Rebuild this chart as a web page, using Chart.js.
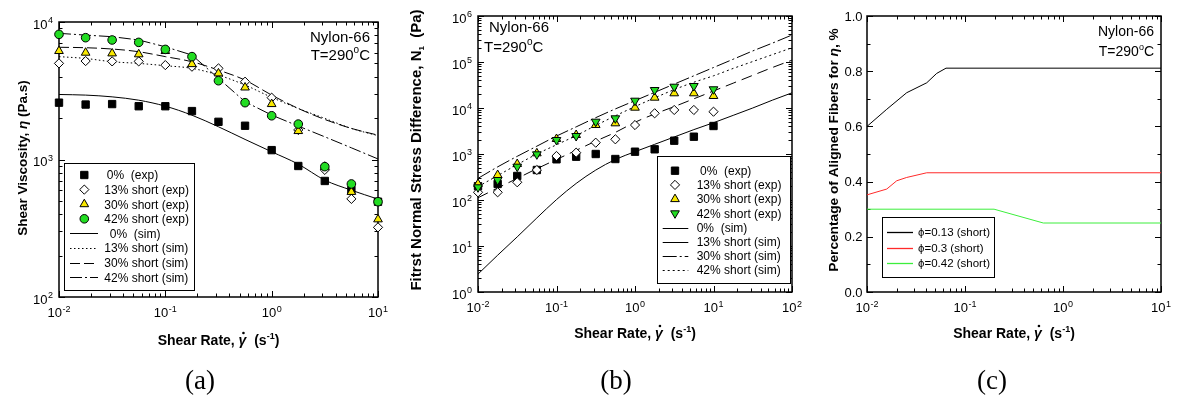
<!DOCTYPE html>
<html>
<head>
<meta charset="utf-8">
<script src="https://cdn.jsdelivr.net/npm/chart.js@4.4.1/dist/chart.umd.min.js"></script>
<style>
  html, body { margin: 0; padding: 0; background: #fff; }
  #wrap { position: relative; width: 1177px; height: 403px; overflow: hidden; }
  canvas { position: absolute; top: 0; }
</style>
</head>
<body>
<div id="wrap">
  <canvas id="chartA" width="392" height="403" style="left:0px"></canvas>
  <canvas id="chartB" width="420" height="403" style="left:392px"></canvas>
  <canvas id="chartC" width="377" height="403" style="left:800px"></canvas>
</div>
<script>
// ---- data ----
const shearRate = [0.01, 0.0178, 0.0316, 0.0562, 0.1, 0.178, 0.316, 0.562, 1, 1.78, 3.16, 5.62, 10];
const simRateB = [0.01, 0.0178, 0.0316, 0.0562, 0.1, 0.178, 0.316, 0.562, 1, 1.78, 3.16, 5.62, 10, 17.8, 31.6, 56.2, 100];

// (a) shear viscosity, Pa.s
const visc0Exp  = [2590, 2510, 2530, 2440, 2440, 2250, 1880, 1760, 1170, 897, 698, 600, 493];
const visc13Exp = [5000, 5200, 5170, 5170, 4860, 4730, 4600, 3680, 2815, 1640, 840, 517, 321];
const visc30Exp = [6150, 5980, 5910, 5820, 6150, 4940, 4230, 3340, 2530, 1610, 886, 581, 367];
const visc42Exp = [8130, 7690, 7400, 7110, 6320, 5600, 3740, 2590, 2080, 1810, 887, 664, 493];
const visc0Sim  = [2970, 2940, 2855, 2700, 2443, 2100, 1730, 1400, 1138, 925, 708, 598, 515];
const visc13Sim = [5600, 5430, 5140, 5000, 4810, 4600, 4110, 3480, 2830, 2350, 1990, 1683, 1490];
const visc30Sim = [6550, 6500, 6360, 6080, 5600, 5140, 4470, 3780, 2940, 2350, 1955, 1683, 1503];
const visc42Sim = [8270, 8030, 7820, 7400, 6600, 5750, 3890, 2630, 2105, 1750, 1462, 1216, 1009];

// (b) first normal stress difference, Pa
const n1_0Exp  = [200, 223, 333, 449, 767, 873, 1000, 778, 1122, 1265, 1946, 2377, 4060];
const n1_13Exp = [147, 147, 243, 449, 905, 1070, 1762, 2088, 4265, 7670, 9060, 9060, 8310];
const n1_30Exp = [223, 349, 606, 1035, 2120, 2590, 4265, 4645, 10160, 16760, 20870, 20870, 18240];
const n1_42Exp = [189, 272, 530, 984, 2014, 2460, 5040, 5970, 14420, 24600, 29040, 30070, 25530];
const n1_0Sim  = [2.45, 6.31, 15.8, 40.7, 102, 229, 447, 759, 1122, 1622, 2344, 3388, 4786, 6918, 10000, 14790, 21380];
const n1_13Sim = [112, 182, 295, 479, 759, 1202, 1905, 2951, 4898, 7413, 10720, 15850, 23440, 34670, 51290, 75860, 109600];
const n1_30Sim = [295, 525, 891, 1479, 2455, 3890, 6166, 9550, 14450, 21880, 33110, 50120, 75860, 114800, 173800, 257000, 386000];
const n1_42Sim = [195, 339, 589, 1000, 1585, 2512, 4169, 6761, 10720, 16600, 25120, 36310, 50120, 72440, 102300, 144500, 204200];

// (c) aligned fibre fraction
const alignRate13 = [0.01, 0.0159, 0.0254, 0.0407, 0.0514, 0.064, 10];
const align13     = [0.60, 0.662, 0.722, 0.758, 0.792, 0.811, 0.811];
const alignRate30 = [0.01, 0.0159, 0.0201, 0.0254, 0.0407, 10];
const align30     = [0.352, 0.373, 0.403, 0.415, 0.432, 0.432];
const alignRate42 = [0.01, 0.198, 0.63, 10];
const align42     = [0.30, 0.30, 0.25, 0.25];

// tick labels
const xExpA = [-2, -1, 0, 1];
const yExpA = [2, 3, 4];
const xExpB = [-2, -1, 0, 1, 2];
const yExpB = [0, 1, 2, 3, 4, 5, 6];
const xExpC = [-2, -1, 0, 1];
const yValC = [0, 0.2, 0.4, 0.6, 0.8, 1.0];
const yLabC = ['0.0', '0.2', '0.4', '0.6', '0.8', '1.0'];

const legendA = ['0%  (exp)', '13% short (exp)', '30% short (exp)', '42% short (exp)',
                 '0%  (sim)', '13% short (sim)', '30% short (sim)', '42% short (sim)'];
const legendB = legendA;
const legendC = ['\u03d5=0.13 (short)', '\u03d5=0.3 (short)', '\u03d5=0.42 (short)'];

const SANS = '"Liberation Sans", Arial, sans-serif';
const SERIF = '"Liberation Serif", "Times New Roman", serif';
const YELLOW = '#f8e800';
const GREEN = '#22dd22';

const pts = (xs, ys) => xs.map((x, i) => ({ x: x, y: ys[i] }));

function expSet(label, xv, yv, style, r, fill, order, rot) {
  return {
    label, data: pts(xv, yv), showLine: false,
    pointStyle: style, pointRadius: r, pointBackgroundColor: fill,
    pointBorderColor: '#000', pointBorderWidth: 1, pointRotation: rot || 0,
    clip: false, order
  };
}

function simSet(label, xv, yv, dash, color, smooth, legendDash) {
  return {
    label, data: pts(xv, yv), showLine: true, pointRadius: 0,
    borderColor: color || '#000', borderWidth: 1, borderDash: dash, fill: false,
    tension: 0, cubicInterpolationMode: smooth ? 'monotone' : 'default',
    legendDash: legendDash, order: 10
  };
}

// ---- drawing helpers ----
function logTicks(r) {
  const out = [];
  for (let e = r[0]; e < r[1]; e++)
    for (let k = 1; k < 10; k++) out.push({ v: k * Math.pow(10, e), major: k === 1 });
  out.push({ v: Math.pow(10, r[1]), major: true });
  return out;
}

function linTicks() {
  const out = [];
  for (let i = 0; i <= 10; i++) out.push({ v: i / 10, major: i % 2 === 0 });
  return out;
}

function drawPow(ctx, e, x, y, align) {
  const sup = String(e);
  ctx.font = '13px ' + SANS;
  const w1 = ctx.measureText('10').width;
  ctx.font = '9px ' + SANS;
  const w2 = ctx.measureText(sup).width;
  const w = w1 + w2 + 0.5;
  const x0 = align === 'center' ? x - w / 2 : x - w;
  ctx.textAlign = 'left';
  ctx.font = '13px ' + SANS;
  ctx.fillText('10', x0, y);
  ctx.font = '9px ' + SANS;
  ctx.fillText(sup, x0 + w1 + 0.5, y - 5.5);
}

function richText(ctx, segs, x, y, rotate) {
  ctx.save();
  ctx.translate(x, y);
  if (rotate) ctx.rotate(-Math.PI / 2);
  ctx.textAlign = 'left';
  let w = 0;
  segs.forEach(s => { ctx.font = s.f; s.w = ctx.measureText(s.t).width; w += s.w; });
  let cx = -w / 2;
  segs.forEach(s => {
    ctx.font = s.f;
    ctx.fillText(s.t, cx, s.dy || 0);
    if (s.dot) {
      ctx.beginPath();
      ctx.arc(cx + s.w * 0.62, -12, 1.3, 0, Math.PI * 2);
      ctx.fill();
    }
    cx += s.w;
  });
  ctx.restore();
}

function rateTitle() {
  const b = 'bold 14px ' + SANS;
  return [
    { t: 'Shear Rate, ', f: b },
    { t: '\u03b3', f: 'italic bold 14px ' + SANS, dot: true },
    { t: '  (s', f: b },
    { t: '-1', f: 'bold 9px ' + SANS, dy: -6 },
    { t: ')', f: b }
  ];
}

function drawNote(ctx, n) {
  const big = n.size + 'px ' + SANS, small = Math.round(n.size * 0.65) + 'px ' + SANS;
  ctx.textAlign = 'left';
  ctx.font = big;
  const w1 = ctx.measureText('Nylon-66').width;
  const wa = ctx.measureText('T=290').width, wc = ctx.measureText('C').width;
  ctx.font = small;
  const wo = ctx.measureText('o').width;
  const w2 = wa + wo + wc;
  const x1 = n.right ? n.x - w1 : n.x;
  const x2 = n.right ? n.x - w2 : n.x2;
  ctx.font = big;
  ctx.fillText('Nylon-66', x1, n.y1);
  ctx.fillText('T=290', x2, n.y2);
  ctx.fillText('C', x2 + wa + wo, n.y2);
  ctx.font = small;
  ctx.fillText('o', x2 + wa, n.y2 - n.size * 0.45);
}

function marker(ctx, style, r, x, y, fill, rot) {
  ctx.beginPath();
  if (style === 'rect') {
    const s = r * Math.SQRT1_2;
    ctx.rect(x - s, y - s, 2 * s, 2 * s);
  } else if (style === 'rectRot') {
    ctx.moveTo(x - r, y); ctx.lineTo(x, y - r); ctx.lineTo(x + r, y); ctx.lineTo(x, y + r);
    ctx.closePath();
  } else if (style === 'triangle') {
    let a = (rot || 0) * Math.PI / 180;
    for (let i = 0; i < 3; i++) {
      const px = x + Math.sin(a) * r, py = y - Math.cos(a) * r;
      if (i) ctx.lineTo(px, py); else ctx.moveTo(px, py);
      a += 2 * Math.PI / 3;
    }
    ctx.closePath();
  } else {
    ctx.arc(x, y, r, 0, Math.PI * 2);
  }
  ctx.fillStyle = fill;
  ctx.fill();
  ctx.lineWidth = 1;
  ctx.strokeStyle = '#000';
  ctx.stroke();
}

function drawLegend(chart, L) {
  const ctx = chart.ctx;
  ctx.save();
  ctx.fillStyle = '#fff';
  ctx.fillRect(L.box[0], L.box[1], L.box[2] - L.box[0], L.box[3] - L.box[1]);
  ctx.strokeStyle = '#000';
  ctx.lineWidth = 1;
  ctx.strokeRect(L.box[0] + 0.5, L.box[1] + 0.5, L.box[2] - L.box[0], L.box[3] - L.box[1]);
  L.labels.forEach((text, i) => {
    const ds = chart.data.datasets[i];
    const y = L.y0 + L.dy * i;
    if (ds.showLine) {
      ctx.save();
      ctx.strokeStyle = ds.borderColor;
      ctx.lineWidth = L.lw || 1;
      ctx.setLineDash(ds.legendDash || ds.borderDash || []);
      ctx.beginPath();
      ctx.moveTo(L.s1, Math.round(y) + 0.5);
      ctx.lineTo(L.s2, Math.round(y) + 0.5);
      ctx.stroke();
      ctx.restore();
    } else {
      marker(ctx, ds.pointStyle, ds.pointRadius, L.mx, y, ds.pointBackgroundColor, ds.pointRotation);
    }
    ctx.fillStyle = '#000';
    ctx.font = L.font;
    ctx.textAlign = 'left';
    ctx.fillText(text, L.tx + (L.dx ? L.dx[i] : 0), y + 4.3);
  });
  ctx.restore();
}

function paperPlugin(p) {
  return {
    id: 'paper',
    beforeDatasetsDraw(chart) {
      const ctx = chart.ctx, a = chart.chartArea, xs = chart.scales.x, ys = chart.scales.y;
      ctx.save();
      ctx.strokeStyle = '#000';
      ctx.lineWidth = 1;
      ctx.beginPath();
      logTicks(p.xRange).forEach(t => {
        const px = Math.round(xs.getPixelForValue(t.v)) + 0.5, len = t.major ? 6 : 3.5;
        ctx.moveTo(px, a.bottom); ctx.lineTo(px, a.bottom - len);
        ctx.moveTo(px, a.top); ctx.lineTo(px, a.top + len);
      });
      (p.yLin ? linTicks() : logTicks(p.yRange)).forEach(t => {
        const py = Math.round(ys.getPixelForValue(t.v)) + 0.5, len = t.major ? 6 : 3.5;
        ctx.moveTo(a.left, py); ctx.lineTo(a.left + len, py);
        ctx.moveTo(a.right, py); ctx.lineTo(a.right - len, py);
      });
      ctx.stroke();
      ctx.lineWidth = 1.5;
      ctx.strokeRect(a.left, a.top, a.right - a.left, a.bottom - a.top);

      ctx.fillStyle = '#000';
      p.xExp.forEach(e => drawPow(ctx, e, xs.getPixelForValue(Math.pow(10, e)), a.bottom + 20, 'center'));
      if (p.yLin) {
        ctx.font = '13px ' + SANS;
        ctx.textAlign = 'right';
        yValC.forEach((v, i) => ctx.fillText(yLabC[i], a.left - 4.5, ys.getPixelForValue(v) + 4.5));
      } else {
        p.yExp.forEach(e => drawPow(ctx, e, a.left - 6, ys.getPixelForValue(Math.pow(10, e)) + 6.5, 'right'));
      }
      ctx.restore();
    },
    afterDraw(chart) {
      const ctx = chart.ctx, a = chart.chartArea;
      ctx.save();
      ctx.fillStyle = '#000';
      richText(ctx, rateTitle(), (a.left + a.right) / 2, p.xTitleY, false);
      richText(ctx, p.yTitle, p.yTitleX, p.yTitleY, true);
      drawNote(ctx, p.note);
      ctx.font = '27px ' + SERIF;
      ctx.textAlign = 'center';
      ctx.fillText(p.panel, p.panelX, 388.5);
      ctx.restore();
      drawLegend(chart, p.legend);
    }
  };
}

function makeChart(id, datasets, padding, xMax, yScale, p) {
  return new Chart(document.getElementById(id), {
    type: 'line',
    data: { datasets },
    options: {
      responsive: false,
      maintainAspectRatio: false,
      animation: false,
      events: [],
      layout: { padding },
      plugins: { legend: { display: false }, tooltip: { enabled: false } },
      scales: {
        x: { type: 'logarithmic', min: 0.01, max: xMax, display: false },
        y: Object.assign({ display: false }, yScale)
      }
    },
    plugins: [paperPlugin(p)]
  });
}

// ---- (a) shear viscosity ----
makeChart('chartA', [
  expSet('0% (exp)', shearRate, visc0Exp, 'rect', 5.2, '#000', 4),
  expSet('13% short (exp)', shearRate, visc13Exp, 'rectRot', 4.6, '#fff', 3),
  expSet('30% short (exp)', shearRate, visc30Exp, 'triangle', 5, YELLOW, 2),
  expSet('42% short (exp)', shearRate, visc42Exp, 'circle', 4.3, GREEN, 1),
  simSet('0% (sim)', shearRate, visc0Sim, [], '#000', true),
  simSet('13% short (sim)', shearRate, visc13Sim, [1.5, 2.5], '#000', true),
  simSet('30% short (sim)', shearRate, visc30Sim, [10, 4], '#000', true),
  simSet('42% short (sim)', shearRate, visc42Sim, [12, 3, 2, 3], '#000', false)
], { left: 59, top: 22, right: 14, bottom: 106 }, 10, { type: 'logarithmic', min: 100, max: 10000 }, {
  xRange: [-2, 1], yRange: [2, 4], xExp: xExpA, yExp: yExpA,
  xTitleY: 345,
  yTitle: [
    { t: 'Shear Viscosity, ', f: 'bold 13.5px ' + SANS },
    { t: '\u03b7', f: 'italic bold 13.5px ' + SANS },
    { t: ' (Pa.s)', f: 'bold 13.5px ' + SANS }
  ],
  yTitleX: 27, yTitleY: 158,
  note: { size: 15, right: true, x: 370, y1: 41.7, y2: 60 },
  panel: '(a)', panelX: 200,
  legend: {
    box: [64, 163, 194, 290], y0: 175, dy: 14.6, mx: 84.3, s1: 70, s2: 98, tx: 104.3,
    dx: [2.5, 0, 0, 0, 5.5, 0, 0, 0], font: '12px ' + SANS, labels: legendA
  }
});

// ---- (b) first normal stress difference ----
makeChart('chartB', [
  expSet('0% (exp)', shearRate, n1_0Exp, 'rect', 5.2, '#000', 4),
  expSet('13% short (exp)', shearRate, n1_13Exp, 'rectRot', 4.6, '#fff', 3),
  expSet('30% short (exp)', shearRate, n1_30Exp, 'triangle', 5, YELLOW, 2),
  expSet('42% short (exp)', shearRate, n1_42Exp, 'triangle', 5, GREEN, 1, 180),
  simSet('0% (sim)', simRateB, n1_0Sim, [], '#000', true),
  simSet('13% short (sim)', simRateB, n1_13Sim, [11, 6], '#000', true, []),
  simSet('30% short (sim)', simRateB, n1_30Sim, [14, 3, 2, 3], '#000', true, [14, 3, 2, 3]),
  simSet('42% short (sim)', simRateB, n1_42Sim, [2, 3], '#000', true)
], { left: 86, top: 16, right: 20, bottom: 111 }, 100, { type: 'logarithmic', min: 1, max: 1000000 }, {
  xRange: [-2, 2], yRange: [0, 6], xExp: xExpB, yExp: yExpB,
  xTitleY: 338,
  yTitle: [
    { t: 'Fitrst Normal Stress Difference, N', f: 'bold 15px ' + SANS },
    { t: '1', f: 'bold 8px ' + SANS, dy: 3 },
    { t: '  (Pa)', f: 'bold 15px ' + SANS }
  ],
  yTitleX: 29, yTitleY: 150,
  note: { size: 15, right: false, x: 97, x2: 92, y1: 31.7, y2: 51.7 },
  panel: '(b)', panelX: 224,
  legend: {
    box: [265, 156, 398, 283], y0: 170.7, dy: 14.2, mx: 283, s1: 270.7, s2: 296.3, tx: 304.7,
    dx: [3.3, 0, 0, 0, 0, 0, 0, 0], font: '12px ' + SANS, labels: legendB
  }
});

// ---- (c) aligned fibres ----
makeChart('chartC', [
  simSet('phi=0.13', alignRate13, align13, [], '#000', false),
  simSet('phi=0.3', alignRate30, align30, [], '#ff2a2a', false),
  simSet('phi=0.42', alignRate42, align42, [], '#3cee3c', false)
], { left: 67, top: 16, right: 16, bottom: 111 }, 10, { type: 'linear', min: 0, max: 1 }, {
  xRange: [-2, 1], yLin: true, xExp: xExpC,
  xTitleY: 338,
  yTitle: [
    { t: 'Percentage of Aligned Fibers for ', f: 'bold 13.7px ' + SANS },
    { t: '\u03b7', f: 'italic bold 13.7px ' + SANS },
    { t: ', %', f: 'bold 13.7px ' + SANS }
  ],
  yTitleX: 38, yTitleY: 150,
  note: { size: 14, right: true, x: 354, y1: 36, y2: 56 },
  panel: '(c)', panelX: 192,
  legend: {
    box: [82, 217, 194, 277], y0: 232, dy: 15.5, mx: 100, s1: 87, s2: 113, tx: 118,
    font: '11.5px ' + SANS, labels: legendC, lw: 1.3
  }
});
</script>
</body>
</html>
